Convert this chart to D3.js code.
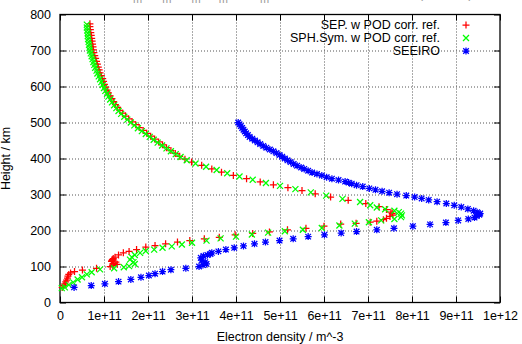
<!DOCTYPE html>
<html>
<head>
<meta charset="utf-8">
<script src="https://cdn.jsdelivr.net/npm/d3@7"></script>
<style>
  body { margin: 0; background: #fff; }
  svg { display: block; font-family: "Liberation Sans", Arial, sans-serif; }
  .ejes text { font-size: 12.5px; fill: #000; }
  .ejes line { stroke: #000; }
  .ejes path { display: none; }
  .grid line { stroke: #555; stroke-dasharray: 1, 2; }
  .grid path { display: none; }
  .grid text { display: none; }
  .labels { font-size: 12.5px; fill: #000; }
</style>
</head>
<body>
<div id="graf"></div>
<script>
// alturas (km) y densidad electronica (en unidades de 1e11 m^-3)
const sepH = [774, 766, 758, 750, 742, 734, 726, 718, 710, 702, 694, 686, 678, 670, 662, 654, 646, 638, 630, 622,
  614, 606, 598, 590, 582, 574, 566, 558, 550, 542, 534, 526, 518, 510, 502, 494, 486, 478, 470, 462,
  454, 446, 438, 430, 422, 414, 406, 398, 390, 381, 371, 362, 353, 344, 335, 327, 319, 311, 302, 293,
  284, 275, 266, 258, 251, 247, 243, 239, 234, 230, 226, 223, 220, 218, 212, 206, 202, 196, 192, 188,
  181, 177, 172, 168, 163, 158, 154, 147, 142, 138, 132, 126, 122, 119, 116, 114, 112, 109, 106, 103,
  100, 95, 90, 86, 82, 78, 73, 68, 62, 57, 52, 47, 42]
const sepNe = [0.68, 0.68, 0.69, 0.70, 0.71, 0.72, 0.73, 0.74, 0.75, 0.76, 0.77, 0.79, 0.81, 0.83, 0.85, 0.87, 0.89, 0.91, 0.94, 0.97,
  0.99, 1.01, 1.04, 1.07, 1.10, 1.14, 1.18, 1.22, 1.26, 1.31, 1.36, 1.42, 1.49, 1.56, 1.64, 1.72, 1.80, 1.89, 1.97, 2.06,
  2.15, 2.24, 2.33, 2.42, 2.52, 2.62, 2.72, 2.84, 2.99, 3.22, 3.45, 3.67, 3.94, 4.24, 4.55, 4.85, 5.18, 5.50, 5.80, 6.15,
  6.55, 6.95, 7.25, 7.42, 7.52, 7.55, 7.56, 7.50, 7.42, 7.35, 7.20, 7.05, 6.73, 6.38, 6.00, 5.59, 5.17, 4.76, 4.38, 3.98,
  3.62, 3.28, 2.95, 2.67, 2.40, 2.16, 1.95, 1.74, 1.57, 1.44, 1.33, 1.25, 1.21, 1.19, 1.18, 1.17, 1.27, 1.22, 1.30, 1.20,
  1.14, 0.83, 0.51, 0.33, 0.24, 0.20, 0.18, 0.17, 0.15, 0.13, 0.11, 0.09, 0.05]

const sphH = [772, 764, 756, 748, 740, 732, 724, 716, 708, 700, 692, 684, 676, 668, 660, 652, 644, 636, 628, 620,
  612, 604, 596, 588, 580, 572, 564, 556, 548, 540, 532, 524, 516, 508, 500, 492, 484, 476, 468, 460,
  452, 444, 436, 428, 420, 412, 404, 395, 386, 377, 368, 359, 350, 341, 332, 324, 315, 306, 297, 288,
  279, 270, 264, 259, 255, 251, 247, 242, 237, 232, 228, 223, 219, 214, 207, 202, 198, 194, 189, 183,
  178, 172, 166, 161, 156, 152, 147, 143, 138, 132, 126, 119, 112, 107, 101, 98, 95, 92, 84, 78,
  70, 64, 56, 49, 42, 40]
const sphNe = [0.61, 0.61, 0.62, 0.63, 0.63, 0.64, 0.65, 0.66, 0.67, 0.68, 0.70, 0.72, 0.74, 0.76, 0.78, 0.80, 0.83, 0.85, 0.88, 0.91,
  0.94, 0.97, 1.00, 1.03, 1.07, 1.10, 1.14, 1.18, 1.23, 1.28, 1.33, 1.39, 1.46, 1.53, 1.61, 1.69, 1.77, 1.86, 1.95, 2.04,
  2.13, 2.22, 2.32, 2.42, 2.52, 2.63, 2.74, 2.88, 3.08, 3.32, 3.56, 3.80, 4.08, 4.38, 4.68, 5.00, 5.35, 5.70, 6.05, 6.42,
  6.82, 7.05, 7.20, 7.39, 7.60, 7.70, 7.75, 7.77, 7.75, 7.60, 7.30, 7.02, 6.70, 6.35, 5.95, 5.52, 5.11, 4.73, 4.36, 4.00,
  3.65, 3.33, 3.00, 2.77, 2.54, 2.33, 2.14, 1.95, 1.82, 1.70, 1.63, 1.59, 1.67, 1.70, 1.57, 1.45, 1.23, 0.91, 0.72, 0.61,
  0.50, 0.40, 0.30, 0.20, 0.11, 0.04]

const seeiroH = [500, 495, 490, 485, 480, 475, 470, 465, 460, 455, 450, 445, 440, 435, 430, 425, 420, 415, 410, 405,
  400, 395, 390, 385, 380, 375, 371, 366, 361, 357, 353, 348, 344, 340, 336, 333, 330, 326, 322, 317,
  313, 309, 305, 301, 297, 293, 289, 285, 280, 275, 270, 265, 260, 255, 251, 247, 244, 240, 236, 232,
  228, 222, 217, 212, 206, 202, 197, 193, 188, 183, 177, 172, 168, 163, 157, 152, 147, 142, 138, 135,
  132, 129, 124, 118, 112, 107, 104, 100, 95, 91, 86, 80, 75, 70, 64, 58, 52, 47, 42]
const seeiroNe = [4.05, 4.08, 4.11, 4.14, 4.17, 4.20, 4.23, 4.27, 4.31, 4.37, 4.43, 4.49, 4.55, 4.62, 4.69, 4.77, 4.85, 4.92, 4.99, 5.05,
  5.11, 5.17, 5.24, 5.31, 5.39, 5.48, 5.55, 5.64, 5.73, 5.84, 5.95, 6.06, 6.18, 6.33, 6.48, 6.56, 6.63, 6.74, 6.88, 7.03,
  7.17, 7.32, 7.48, 7.66, 7.87, 8.06, 8.22, 8.38, 8.57, 8.78, 8.96, 9.12, 9.27, 9.40, 9.48, 9.55, 9.53, 9.47, 9.42, 9.28,
  9.05, 8.77, 8.41, 8.02, 7.59, 7.20, 6.74, 6.39, 6.01, 5.64, 5.30, 4.99, 4.67, 4.42, 4.17, 3.96, 3.77, 3.60, 3.45, 3.42,
  3.35, 3.26, 3.20, 3.22, 3.30, 3.33, 3.25, 3.16, 2.86, 2.52, 2.33, 2.16, 2.02, 1.84, 1.61, 1.33, 1.02, 0.71, 0.32]

const xTicks = [0, 1e11, 2e11, 3e11, 4e11, 5e11, 6e11, 7e11, 8e11, 9e11, 1e12]
const yTicks = [0, 100, 200, 300, 400, 500, 600, 700, 800]

const seriesNames = ["SEP. w POD corr. ref.", "SPH.Sym. w POD corr. ref.", "SEEIRO"]
const seriesColors = ["#ff0000", "#00ff00", "#0000ff"]
const seriesShapes = ["plus", "cross", "star"]

// titulo: trozos normales y subindices (solo asoman los subindices en la ventana)
const titleMain = ["Profile N", " SP", " EP", " F2", " SEEI", ", electron densities ", "(CHAMP)"]
const titleSubs = ["m", "m", "m", "m", "m"]

const anchoTotal = 522
const altoTotal = 344
const margins = { left: 60, top: 14.5, right: 22, bottom: 41.5 }
const ancho = anchoTotal - margins.left - margins.right
const alto = altoTotal - margins.top - margins.bottom

const svg = d3.select("#graf")
  .append("svg")
  .attr("width", anchoTotal)
  .attr("height", altoTotal)

const g = svg.append("g")
  .attr("transform", `translate(${margins.left}, ${margins.top})`)

const x = d3.scaleLinear().domain([0, 1e12]).range([0, ancho])
const y = d3.scaleLinear().domain([0, 800]).range([alto, 0])

// rejilla punteada
g.append("g")
  .attr("class", "grid")
  .attr("transform", `translate(0, ${alto})`)
  .call(d3.axisBottom(x).tickValues(xTicks.slice(1, -1)).tickSize(-alto))
g.append("g")
  .attr("class", "grid")
  .call(d3.axisLeft(y).tickValues(yTicks.slice(1, -1)).tickSize(-ancho))

const fmtX = (d) => (d === 0 ? "0" : d.toExponential())

g.append("g")
  .attr("class", "ejes")
  .attr("transform", `translate(0, ${alto})`)
  .call(d3.axisBottom(x).tickValues(xTicks).tickFormat(fmtX).tickSize(-6).tickPadding(9))
g.append("g")
  .attr("class", "ejes")
  .call(d3.axisTop(x).tickValues(xTicks).tickFormat("").tickSize(-6))
g.append("g")
  .attr("class", "ejes")
  .call(d3.axisLeft(y).tickValues(yTicks).tickSize(-6).tickPadding(9))
g.append("g")
  .attr("class", "ejes")
  .attr("transform", `translate(${ancho}, 0)`)
  .call(d3.axisRight(y).tickValues(yTicks).tickFormat("").tickSize(-6))

g.append("rect")
  .attr("width", ancho)
  .attr("height", alto)
  .attr("fill", "none")
  .attr("stroke", "#000")
  .attr("stroke-width", 1.3)

const shapes = {
  plus: "M-3.5,0H3.5M0,-3.5V3.5",
  cross: "M-3,-3L3,3M-3,3L3,-3",
  star: "M-3.5,0H3.5M0,-3.5V3.5M-2.8,-2.8L2.8,2.8M-2.8,2.8L2.8,-2.8"
}

const series = [
  { h: sepH, ne: sepNe },
  { h: sphH, ne: sphNe },
  { h: seeiroH, ne: seeiroNe }
]

series.forEach((s, i) => {
  const pts = s.h.map((h, k) => ({ h: h, ne: s.ne[k] * 1e11 }))
  g.append("g")
    .selectAll("path")
    .data(pts)
    .enter()
    .append("path")
    .attr("d", shapes[seriesShapes[i]])
    .attr("transform", (d) => `translate(${x(d.ne)}, ${y(d.h)})`)
    .attr("fill", "none")
    .attr("stroke", seriesColors[i])
    .attr("stroke-width", 1.25)
})

// leyenda
const leg = g.append("g")
seriesNames.forEach((n, i) => {
  const yy = 10.5 + i * 13
  leg.append("text")
    .attr("x", 380)
    .attr("y", yy)
    .attr("dy", "0.35em")
    .attr("text-anchor", "end")
    .attr("class", "labels")
    .text(n)
  leg.append("path")
    .attr("d", shapes[seriesShapes[i]])
    .attr("transform", `translate(406, ${yy})`)
    .attr("fill", "none")
    .attr("stroke", seriesColors[i])
    .attr("stroke-width", 1.25)
})

g.append("text")
  .attr("x", ancho / 2)
  .attr("y", alto + 38)
  .attr("text-anchor", "middle")
  .attr("class", "labels")
  .text("Electron density / m^-3")

svg.append("text")
  .attr("transform", `translate(10, ${margins.top + alto / 2}) rotate(-90)`)
  .attr("text-anchor", "middle")
  .attr("class", "labels")
  .text("Height / km")

// titulo (casi fuera de la ventana, como en el original): el texto fluye, los subindices bajan
const title = svg.append("text")
  .attr("x", 85)
  .attr("y", -2.5)
  .attr("fill", "#999")
  .style("font-size", "12.5px")
titleMain.forEach((part, k) => {
  const t = title.append("tspan").attr("y", -2.5).text(part)
  if (k === 6) t.attr("x", 419)
  if (k < titleSubs.length) {
    title.append("tspan")
      .attr("y", 3)
      .style("font-size", "11px")
      .text(titleSubs[k])
  }
})
</script>
</body>
</html>
